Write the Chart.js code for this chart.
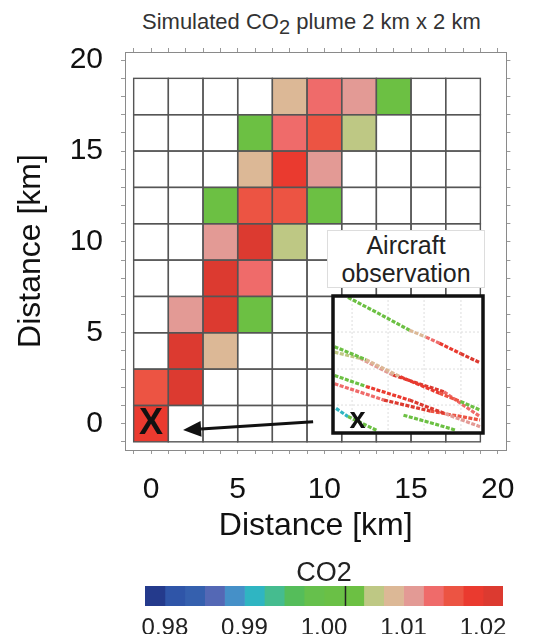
<!DOCTYPE html>
<html lang="en">

<head>
    <meta charset="UTF-8">
    <title>Simulated CO2 plume</title>
    <script src="https://cdn.jsdelivr.net/npm/chart.js"></script>
    <style>
        * {
            margin: 0;
            padding: 0;
            box-sizing: border-box;
        }

        body {
            background-color: #ffffff;
            width: 533px;
            height: 634px;
            position: relative;
            overflow: hidden;
            font-family: "Liberation Sans", Arial, sans-serif;
        }

        #title {
            position: absolute;
            left: 142px;
            top: 10px;
            font-size: 22px;
            line-height: 24px;
            color: #333333;
            white-space: nowrap;
        }

        #title sub {
            font-size: 20px;
            vertical-align: -5px;
            line-height: 0;
        }

        #mainChart {
            position: absolute;
            left: 0;
            top: 0;
        }

        #insetChart {
            position: absolute;
            left: 330px;
            top: 293px;
        }

        #obsLabel {
            position: absolute;
            left: 327px;
            top: 230px;
            width: 158px;
            height: 58px;
            background: #ffffff;
            border: 1px solid #dddddd;
            text-align: center;
            font-size: 25px;
            line-height: 28px;
            color: #222222;
        }

        #colorbar {
            position: absolute;
            left: 0;
            top: 550px;
        }
    </style>
</head>

<body>
    <div id="title">Simulated CO<sub>2</sub> plume 2 km x 2 km</div>
    <canvas id="mainChart" width="533" height="550"></canvas>
    <div id="obsLabel">Aircraft<br>observation</div>
    <canvas id="insetChart" width="156" height="143"></canvas>
    <canvas id="colorbar" width="533" height="84"></canvas>

    <script>
        // grid cell centres (km), cells are 2 km x 2 km
        const xCells = [0, 2, 4, 6, 8, 10, 12, 14, 16, 18];
        const yCells = [0, 2, 4, 6, 8, 10, 12, 14, 16, 18];
        const cellHalf = 1;

        // CO2 ratio per cell, rows from y = 0 (bottom) up to y = 18 (top), null = empty
        const co2Rows = [
            [1.018, null, null, null, null, null, null, null, null, null],
            [1.016, 1.021, null, null, null, null, null, null, null, null],
            [null, 1.021, 1.009, null, null, null, null, null, null, null],
            [null, 1.011, 1.021, 1.004, null, null, null, null, null, null],
            [null, null, 1.021, 1.014, null, null, null, null, null, null],
            [null, null, 1.011, 1.021, 1.006, null, null, null, null, null],
            [null, null, 1.004, 1.016, 1.016, 1.004, null, null, null, null],
            [null, null, null, 1.009, 1.019, 1.011, null, null, null, null],
            [null, null, null, 1.004, 1.014, 1.016, 1.006, null, null, null],
            [null, null, null, null, 1.009, 1.014, 1.011, 1.004, null, null]
        ];

        const axisTickLabels = [0, 5, 10, 15, 20];

        // colour scale
        const cbBounds = [0.9775, 0.98, 0.9825, 0.985, 0.9875, 0.99, 0.9925, 0.995, 0.9975, 1.0,
            1.0025, 1.005, 1.0075, 1.01, 1.0125, 1.015, 1.0175, 1.02, 1.0225];
        const cbColors = ['#243a8c', '#2f55a8', '#3560ae', '#5468b5', '#4590c8', '#2fb5c2',
            '#45bc8f', '#55bd5a', '#66c04c', '#6ac046', '#6cc043', '#bec884',
            '#dcb896', '#e39a95', '#ef6b6a', '#ec5443', '#ea3a2f', '#dc3a30'];
        const cbTicks = [0.98, 0.99, 1.00, 1.01, 1.02];
        const cbMarker = 1.0027;

        // aircraft tracks in the inset (0-10 box units) and CO2 of each segment
        const tracks = [
            { pts: [[1.0, 9.9], [3.0, 8.75], [5.1, 7.5], [6.2, 7.0], [7.1, 6.55], [8.5, 5.8], [9.8, 5.13]],
              co2: [1.004, 1.004, 1.009, 1.014, 1.019, 1.021] },
            { pts: [[0.1, 6.3], [2.2, 5.35], [4.5, 4.1], [7.1, 2.9], [8.5, 2.3], [9.8, 1.68]],
              co2: [1.004, 1.009, 1.019, 1.016, 1.004] },
            { pts: [[0.1, 5.9], [1.8, 5.45], [4.0, 4.23], [7.4, 3.0], [9.8, 1.2]],
              co2: [1.006, 1.011, 1.021, 1.014] },
            { pts: [[0.1, 4.2], [2.2, 3.4], [5.1, 2.4], [7.5, 1.4], [9.8, 0.46]],
              co2: [1.004, 1.019, 1.021, 1.011] },
            { pts: [[0.1, 3.6], [3.4, 2.4], [6.5, 1.6], [9.8, 0.95]],
              co2: [1.014, 1.021, 1.016] },
            { pts: [[0.2, 1.8], [1.0, 1.2], [2.9, 0.2]],
              co2: [0.991, 1.004] },
            { pts: [[4.7, 1.3], [6.5, 0.75], [8.2, 0.2]],
              co2: [1.004, 1.004] }
        ];
        const insetGridX = [1.27, 3.67, 6.07, 8.53];
        const insetGridY = [2.04, 4.67, 7.37];

        function colorFor(v) {
            for (let i = 0; i < cbColors.length; i++) {
                if (v < cbBounds[i + 1]) return cbColors[i];
            }
            return cbColors[cbColors.length - 1];
        }

        Chart.defaults.font.family = '"Liberation Sans", Arial, sans-serif';
        Chart.defaults.color = '#111111';

        // cell points for the main chart
        const cellData = [];
        co2Rows.forEach((row, i) => {
            row.forEach((v, j) => cellData.push({ x: xCells[j], y: yCells[i], v: v }));
        });

        // draws the 2 km cells from the dataset points via the scales
        const cellPlugin = {
            id: 'cells',
            beforeDatasetsDraw(chart) {
                const { ctx, scales: { x, y } } = chart;
                const pts = chart.data.datasets[0].data;
                const rect = p => {
                    const l = x.getPixelForValue(p.x - cellHalf);
                    const r = x.getPixelForValue(p.x + cellHalf);
                    const t = y.getPixelForValue(p.y + cellHalf);
                    const b = y.getPixelForValue(p.y - cellHalf);
                    return [l, t, r - l, b - t];
                };
                ctx.save();
                pts.forEach(p => {
                    ctx.fillStyle = p.v === null ? '#ffffff' : colorFor(p.v);
                    ctx.fillRect(...rect(p));
                });
                ctx.strokeStyle = '#555555';
                ctx.lineWidth = 1.4;
                pts.forEach(p => ctx.strokeRect(...rect(p)));
                ctx.restore();
            },
            afterDatasetsDraw(chart) {
                const { ctx, scales: { x, y } } = chart;
                ctx.save();
                // source marker
                ctx.fillStyle = '#111111';
                ctx.font = 'bold 36px "Liberation Sans", Arial, sans-serif';
                ctx.textAlign = 'center';
                ctx.textBaseline = 'middle';
                ctx.fillText('X', x.getPixelForValue(0), y.getPixelForValue(0));
                // arrow from the inset to the source
                const x0 = x.getPixelForValue(9.35), y0 = y.getPixelForValue(0.1);
                const x1 = x.getPixelForValue(1.85), y1 = y.getPixelForValue(-0.35);
                const ang = Math.atan2(y1 - y0, x1 - x0);
                const head = 18, half = 8;
                const bx = x1 - head * Math.cos(ang), by = y1 - head * Math.sin(ang);
                ctx.strokeStyle = '#111111';
                ctx.lineWidth = 3;
                ctx.beginPath();
                ctx.moveTo(x0, y0);
                ctx.lineTo(bx, by);
                ctx.stroke();
                ctx.beginPath();
                ctx.moveTo(x1, y1);
                ctx.lineTo(bx + half * Math.sin(ang), by - half * Math.cos(ang));
                ctx.lineTo(bx - half * Math.sin(ang), by + half * Math.cos(ang));
                ctx.closePath();
                ctx.fill();
                ctx.restore();
            }
        };

        const intTicks = scale => {
            const t = [];
            for (let v = -1; v <= 20; v++) t.push({ value: v });
            scale.ticks = t;
        };
        const tickLabel = v => axisTickLabels.includes(v) ? String(v) : '';
        const frameGrid = { drawOnChartArea: false, tickLength: 4, tickColor: '#999999', tickWidth: 1 };
        const frameBorder = { color: '#8a8a8a', width: 1 };

        new Chart(document.getElementById('mainChart'), {
            type: 'scatter',
            data: {
                datasets: [{
                    label: 'CO2',
                    data: cellData,
                    pointRadius: 0,
                    pointHoverRadius: 0
                }]
            },
            options: {
                responsive: false,
                animation: false,
                devicePixelRatio: 1,
                layout: { padding: 0 },
                plugins: {
                    legend: { display: false },
                    tooltip: { enabled: false }
                },
                scales: {
                    x: {
                        type: 'linear',
                        position: 'bottom',
                        min: -1.5,
                        max: 20.5,
                        afterBuildTicks: intTicks,
                        afterFit: s => { s.height = 100; },
                        ticks: {
                            callback: tickLabel,
                            autoSkip: false,
                            maxRotation: 0,
                            padding: 18,
                            font: { size: 30 },
                            color: '#111111'
                        },
                        grid: frameGrid,
                        border: frameBorder,
                        title: {
                            display: true,
                            text: 'Distance [km]',
                            font: { size: 32 },
                            color: '#111111',
                            padding: { top: 0, bottom: 5 }
                        }
                    },
                    x2: {
                        type: 'linear',
                        position: 'top',
                        min: -1.5,
                        max: 20.5,
                        afterBuildTicks: intTicks,
                        afterFit: s => { s.height = 52; },
                        ticks: { display: false },
                        grid: frameGrid,
                        border: frameBorder
                    },
                    y: {
                        type: 'linear',
                        position: 'left',
                        min: -1.45,
                        max: 20.45,
                        afterBuildTicks: intTicks,
                        afterFit: s => { s.width = 125; },
                        ticks: {
                            callback: tickLabel,
                            autoSkip: false,
                            padding: 18,
                            font: { size: 30 },
                            color: '#111111'
                        },
                        grid: frameGrid,
                        border: frameBorder,
                        title: {
                            display: true,
                            text: 'Distance [km]',
                            font: { size: 32 },
                            color: '#111111',
                            padding: { top: 12, bottom: 0 }
                        }
                    },
                    y2: {
                        type: 'linear',
                        position: 'right',
                        min: -1.45,
                        max: 20.45,
                        afterBuildTicks: intTicks,
                        afterFit: s => { s.width = 9; },
                        ticks: { display: false },
                        grid: frameGrid,
                        border: frameBorder
                    }
                }
            },
            plugins: [cellPlugin]
        });

        // inset with the aircraft tracks
        const insetPlugin = {
            id: 'insetFrame',
            beforeDatasetsDraw(chart) {
                const { ctx, chartArea: a, scales: { x, y } } = chart;
                ctx.save();
                ctx.fillStyle = '#ffffff';
                ctx.fillRect(a.left, a.top, a.width, a.height);
                ctx.strokeStyle = '#dddddd';
                ctx.lineWidth = 1;
                ctx.setLineDash([2, 2]);
                insetGridX.forEach(v => {
                    const px = x.getPixelForValue(v);
                    ctx.beginPath();
                    ctx.moveTo(px, a.top);
                    ctx.lineTo(px, a.bottom);
                    ctx.stroke();
                });
                insetGridY.forEach(v => {
                    const py = y.getPixelForValue(v);
                    ctx.beginPath();
                    ctx.moveTo(a.left, py);
                    ctx.lineTo(a.right, py);
                    ctx.stroke();
                });
                ctx.restore();
            },
            afterDatasetsDraw(chart) {
                const { ctx, chartArea: a, scales: { x, y } } = chart;
                ctx.save();
                ctx.fillStyle = '#111111';
                ctx.font = 'bold 29px "Liberation Sans", Arial, sans-serif';
                ctx.textAlign = 'center';
                ctx.textBaseline = 'alphabetic';
                ctx.fillText('x', x.getPixelForValue(1.63), y.getPixelForValue(0.36));
                ctx.strokeStyle = '#111111';
                ctx.lineWidth = 3.5;
                ctx.strokeRect(a.left, a.top, a.width, a.height);
                ctx.restore();
            }
        };

        new Chart(document.getElementById('insetChart'), {
            type: 'scatter',
            data: {
                datasets: tracks.map(t => ({
                    data: t.pts.map(p => ({ x: p[0], y: p[1] })),
                    showLine: true,
                    pointRadius: 0,
                    borderWidth: 3.2,
                    borderDash: [4, 1.5],
                    segment: {
                        borderColor: ctx => colorFor(t.co2[ctx.p0DataIndex])
                    }
                }))
            },
            options: {
                responsive: false,
                animation: false,
                devicePixelRatio: 1,
                layout: { padding: 3 },
                plugins: {
                    legend: { display: false },
                    tooltip: { enabled: false }
                },
                scales: {
                    x: { type: 'linear', min: 0, max: 10, display: false },
                    y: { type: 'linear', min: 0, max: 10, display: false }
                }
            },
            plugins: [insetPlugin]
        });

        // colour bar
        const markerPlugin = {
            id: 'cbMarker',
            afterDatasetsDraw(chart) {
                const { ctx, chartArea: a, scales: { x } } = chart;
                const px = x.getPixelForValue(cbMarker);
                ctx.save();
                ctx.strokeStyle = '#222222';
                ctx.lineWidth = 1.5;
                ctx.beginPath();
                ctx.moveTo(px, a.top);
                ctx.lineTo(px, a.bottom);
                ctx.stroke();
                ctx.restore();
            }
        };

        new Chart(document.getElementById('colorbar'), {
            type: 'bar',
            data: {
                labels: ['CO2'],
                datasets: cbColors.map((c, i) => ({
                    data: [[cbBounds[i], cbBounds[i + 1]]],
                    backgroundColor: c,
                    borderWidth: 0,
                    grouped: false,
                    barPercentage: 1,
                    categoryPercentage: 1
                }))
            },
            options: {
                indexAxis: 'y',
                responsive: false,
                animation: false,
                devicePixelRatio: 1,
                layout: { padding: { left: 145, right: 30, top: 0, bottom: 0 } },
                plugins: {
                    legend: { display: false },
                    tooltip: { enabled: false }
                },
                scales: {
                    x: {
                        type: 'linear',
                        position: 'bottom',
                        min: cbBounds[0],
                        max: cbBounds[cbBounds.length - 1],
                        afterBuildTicks: s => { s.ticks = cbTicks.map(v => ({ value: v })); },
                        afterFit: s => { s.height = 28; },
                        ticks: {
                            callback: v => v.toFixed(2),
                            autoSkip: false,
                            maxRotation: 0,
                            padding: 0,
                            font: { size: 24 },
                            color: '#222222'
                        },
                        grid: { display: false },
                        border: { display: false }
                    },
                    x2: {
                        type: 'linear',
                        position: 'top',
                        afterFit: s => { s.height = 36; },
                        ticks: { display: false },
                        grid: { display: false },
                        border: { display: false },
                        title: {
                            display: true,
                            text: 'CO2',
                            font: { size: 27 },
                            color: '#222222',
                            padding: { top: 7, bottom: 0 }
                        }
                    },
                    y: { display: false }
                }
            },
            plugins: [markerPlugin]
        });
    </script>
</body>

</html>
